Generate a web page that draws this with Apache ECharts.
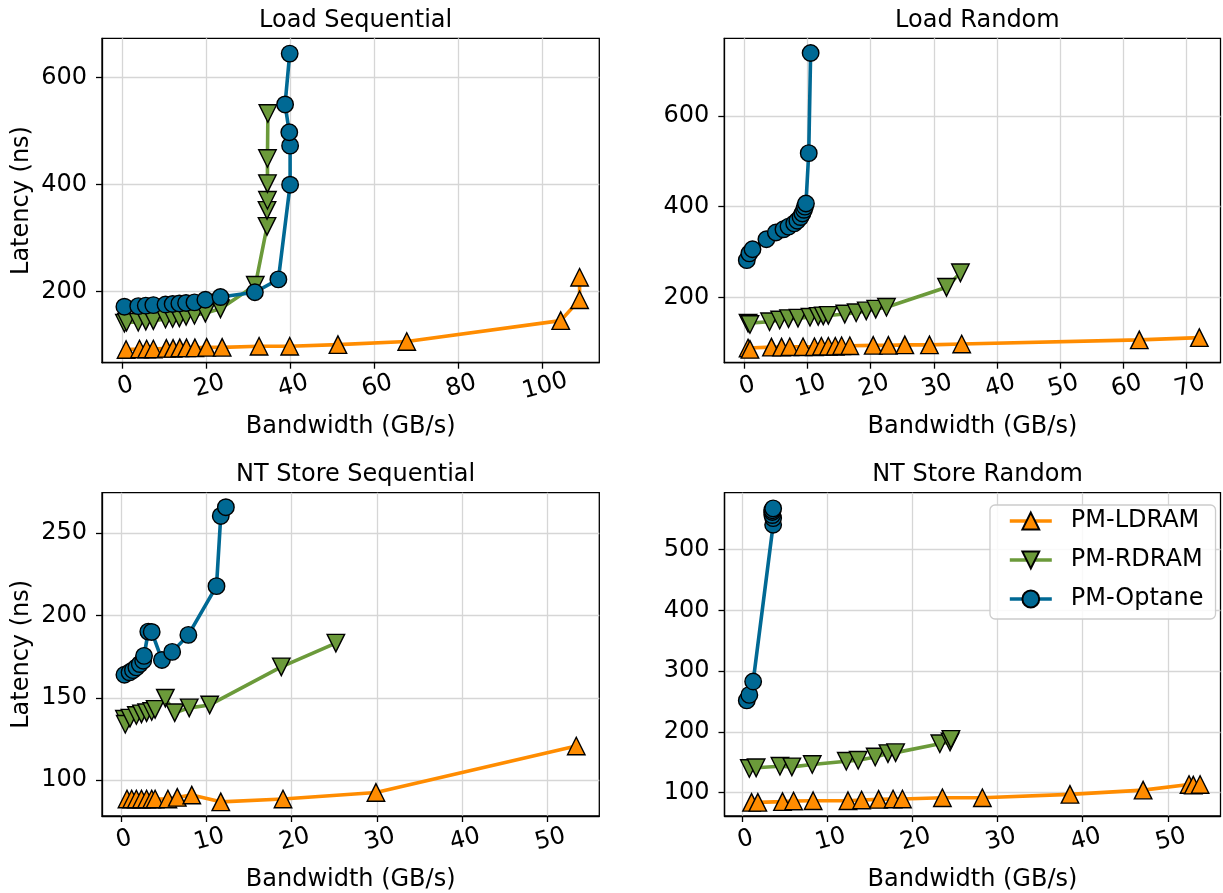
<!DOCTYPE html>
<html>
<head>
<meta charset="utf-8">
<script src="https://cdn.jsdelivr.net/npm/echarts@6/dist/echarts.min.js"></script>
<style>
html,body{margin:0;padding:0;background:#fff;}
#chart{width:1223px;height:893px;}
</style>
</head>
<body>
<div id="chart"></div>
<script>
// ---------- DATA ----------
const seriesNames = ['PM-LDRAM', 'PM-RDRAM', 'PM-Optane'];
const panelTitles = ['Load Sequential', 'Load Random', 'NT Store Sequential', 'NT Store Random'];

// Load Sequential
const lsLdramBw  = [0.9, 4.1, 5.8, 7.4, 10.5, 12.1, 13.7, 15.3, 17.3, 20.1, 23.8, 32.6, 39.9, 51.4, 67.8, 104.5, 109.0, 109.0];
const lsLdramLat = [92, 93, 93, 93, 94, 94, 95, 95, 95, 96, 96, 98, 98, 101, 107, 146, 185, 227];
const lsRdramBw  = [0.5, 1.0, 3.8, 5.6, 7.4, 10.3, 12.0, 13.6, 15.2, 17.2, 19.8, 23.4, 31.7, 34.5, 34.5, 34.6, 34.6, 34.6, 34.7];
const lsRdramLat = [141, 143, 143, 145, 146, 149, 150, 151, 154, 156, 160, 168, 212, 322, 352, 371, 402, 449, 533];
const lsOptBw    = [0.5, 3.8, 5.6, 7.4, 10.3, 12.0, 13.6, 15.2, 17.2, 19.8, 23.4, 31.6, 37.2, 40.0, 40.0, 39.8, 38.8, 39.9];
const lsOptLat   = [172, 173, 174, 175, 176, 177, 178, 179, 180, 185, 190, 199, 223, 400, 473, 498, 550, 645];

// Load Random
const lrLdramBw  = [0.6, 0.9, 4.3, 5.9, 7.2, 9.3, 11.1, 12.2, 13.3, 14.4, 15.4, 16.7, 20.4, 22.8, 25.4, 29.3, 34.4, 62.5, 72.0];
const lrLdramLat = [88, 85, 90, 90, 91, 91, 91, 92, 92, 92, 93, 93, 94, 94, 95, 95, 97, 106, 111];
const lrRdramBw  = [0.6, 0.9, 4.0, 5.6, 7.0, 8.5, 10.4, 11.7, 12.5, 13.3, 15.9, 17.7, 19.3, 20.8, 22.5, 32.0, 34.2];
const lrRdramLat = [143, 140, 146, 150, 153, 154, 156, 158, 159, 160, 163, 166, 170, 174, 178, 222, 254];
const lrOptBw    = [0.4, 0.8, 1.3, 3.5, 5.0, 6.2, 7.0, 7.9, 8.4, 8.9, 9.2, 9.45, 9.6, 9.76, 10.2, 10.5];
const lrOptLat   = [282, 297, 306, 328, 343, 350, 356, 363, 369, 377, 385, 393, 400, 407, 518, 739];

// NT Store Sequential
const nsLdramBw  = [0.7, 1.25, 1.8, 2.4, 3.0, 3.6, 4.0, 5.5, 6.6, 8.3, 11.7, 19.0, 29.9, 53.4];
const nsLdramLat = [88.6, 88.6, 88.6, 88.6, 88.6, 88.6, 88.6, 88.6, 89.6, 91.0, 86.9, 88.6, 92.6, 120.8];
const nsRdramBw  = [0.4, 0.5, 1.05, 1.8, 2.4, 3.0, 3.6, 4.0, 5.2, 6.3, 8.0, 10.4, 18.8, 25.2];
const nsRdramLat = [137, 134, 137.7, 139.3, 140.3, 141, 141.7, 143, 149.8, 141, 143.9, 145.7, 168.8, 183.2];
const nsOptBw    = [0.4, 1.0, 1.4, 1.8, 2.2, 2.6, 2.7, 3.2, 3.6, 4.8, 6.0, 7.9, 11.2, 11.7, 12.3];
const nsOptLat   = [164, 165.5, 166.8, 168.5, 170.5, 172.5, 175.5, 190.2, 190, 173, 177.9, 188.2, 217.8, 260.4, 265.7];

// NT Store Random
const nrLdramBw  = [1.06, 1.8, 4.7, 6.0, 8.3, 12.4, 14.0, 16.0, 17.7, 18.8, 23.5, 28.2, 38.5, 47.1, 52.5, 53.0, 53.8];
const nrLdramLat = [84.2, 84.2, 85.3, 86.3, 86.9, 86.9, 88.0, 89.0, 89.6, 89.6, 91.8, 91.8, 97.3, 104.3, 113.6, 112.5, 113.6];
const nrRdramBw  = [0.8, 1.6, 4.4, 5.8, 8.2, 12.2, 13.6, 15.6, 17.1, 18.0, 23.2, 24.4, 24.5];
const nrRdramLat = [139.8, 141, 143.6, 142.6, 146.4, 151.8, 153.4, 158.9, 164.4, 166, 180.7, 183.5, 187.8];
const nrOptBw    = [0.5, 0.8, 1.25, 3.6, 3.6, 3.5, 3.5, 3.5, 3.6];
const nrOptLat   = [252, 261, 283, 541, 552, 557, 562, 565, 568];

// Tick labels
const xTicks = [[0, 20, 40, 60, 80, 100], [0, 10, 20, 30, 40, 50, 60, 70], [0, 10, 20, 30, 40, 50], [0, 10, 20, 30, 40, 50]];
const yTicks = [[200, 400, 600], [200, 400, 600], [100, 150, 200, 250], [100, 200, 300, 400, 500]];

// ---------- LAYOUT / STYLE ----------
const FONT = 'DejaVu Sans';
const FS = 24;
const colors = ['#ff8c00', '#6b9a3a', '#006994'];
const LW = 3.6;
const grids = [
  {left: 102, top: 38.3, width: 497.3, height: 324.4},
  {left: 724.3, top: 38.3, width: 496.2, height: 324.4},
  {left: 102, top: 492.7, width: 497.3, height: 325},
  {left: 724.5, top: 492.7, width: 496, height: 325}
];
const xRanges = [[-4.84, 113.7], [-3.16, 75.35], [-2.23, 56.1], [-2.12, 56.2]];
const yRanges = [[67.3, 673.6], [55.7, 771.4], [78.3, 274.5], [61.7, 593.8]];

const panels = [
  [[lsLdramBw, lsLdramLat], [lsRdramBw, lsRdramLat], [lsOptBw, lsOptLat]],
  [[lrLdramBw, lrLdramLat], [lrRdramBw, lrRdramLat], [lrOptBw, lrOptLat]],
  [[nsLdramBw, nsLdramLat], [nsRdramBw, nsRdramLat], [nsOptBw, nsOptLat]],
  [[nrLdramBw, nrLdramLat], [nrRdramBw, nrRdramLat], [nrOptBw, nrOptLat]]
];

const zip = (a, b) => a.map((v, i) => [v, b[i]]);

const option = {
  animation: false,
  backgroundColor: '#fff',
  textStyle: {fontFamily: FONT},
  title: panelTitles.map((t, i) => ({
    text: t,
    left: grids[i].left + grids[i].width / 2,
    top: grids[i].top - 35,
    textAlign: 'center',
    textStyle: {fontFamily: FONT, fontSize: FS, fontWeight: 'normal', color: '#000'}
  })),
  legend: {
    data: seriesNames,
    orient: 'vertical',
    left: 990, top: 505,
    padding: [4, 12, 8, 18],
    itemWidth: 42, itemHeight: 21, itemGap: 15,
    borderColor: '#cccccc', borderWidth: 1.3, borderRadius: 5,
    backgroundColor: 'rgba(255,255,255,0.85)',
    lineStyle: {width: LW},
    textStyle: {fontFamily: FONT, fontSize: FS, color: '#000', padding: [0, 0, 0, 14]}
  },
  grid: grids.map(g => Object.assign({show: true, borderColor: '#000', borderWidth: 1.3, backgroundColor: 'transparent'}, g)),
  xAxis: grids.map((g, i) => ({
    type: 'value', gridIndex: i,
    min: xRanges[i][0], max: xRanges[i][1],
    name: 'Bandwidth (GB/s)', nameLocation: 'middle', nameGap: 52,
    nameTextStyle: {fontFamily: FONT, fontSize: FS, color: '#000'},
    axisLine: {show: true, onZero: false, lineStyle: {color: '#000', width: 1.3}},
    axisTick: {show: true, inside: false, length: 6, lineStyle: {color: '#000', width: 1.3}, customValues: xTicks[i]},
    axisLabel: {customValues: xTicks[i], rotate: 15, margin: 12, fontFamily: FONT, fontSize: FS, color: '#000', align: 'center', verticalAlign: 'top'},
    splitLine: {show: true, lineStyle: {color: '#d6d6d6', width: 1.3}}
  })),
  yAxis: grids.map((g, i) => ({
    type: 'value', gridIndex: i,
    min: yRanges[i][0], max: yRanges[i][1],
    name: (i % 2 === 0) ? 'Latency (ns)' : '', nameLocation: 'middle', nameGap: 68, nameRotate: 90,
    nameTextStyle: {fontFamily: FONT, fontSize: FS, color: '#000'},
    axisLine: {show: true, onZero: false, lineStyle: {color: '#000', width: 1.3}},
    axisTick: {show: true, inside: false, length: 6, lineStyle: {color: '#000', width: 1.3}, customValues: yTicks[i]},
    axisLabel: {customValues: yTicks[i], margin: 15, fontFamily: FONT, fontSize: FS, color: '#000'},
    splitLine: {show: true, lineStyle: {color: '#d6d6d6', width: 1.3}}
  })),
  series: []
};

panels.forEach((panel, p) => {
  panel.forEach((s, k) => {
    option.series.push({
      type: 'line',
      name: seriesNames[k],
      xAxisIndex: p, yAxisIndex: p,
      data: zip(s[0], s[1]),
      symbol: k === 2 ? 'circle' : 'triangle',
      symbolRotate: k === 1 ? 180 : 0,
      symbolSize: k === 2 ? 16.5 : 17.5,
      showAllSymbol: true,
      clip: false,
      lineStyle: {color: colors[k], width: LW},
      itemStyle: {color: colors[k], borderColor: '#000', borderWidth: 1.4},
      z: 2 + k
    });
  });
});

const chart = echarts.init(document.getElementById('chart'), null, {renderer: 'canvas'});
chart.setOption(option);
</script>
</body>
</html>
